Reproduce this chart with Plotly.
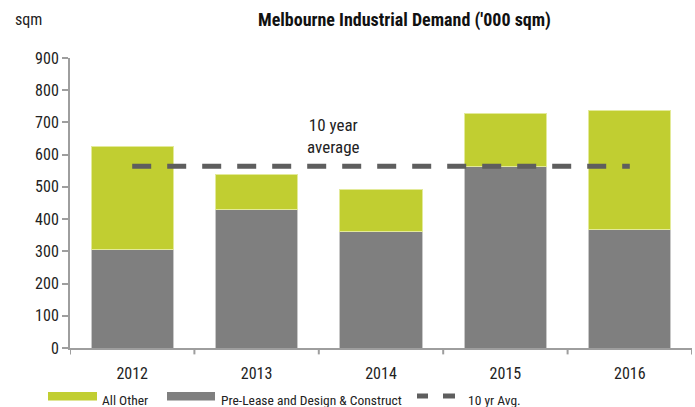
import plotly.graph_objects as go

# Melbourne industrial demand, '000 sqm
years = ["2012", "2013", "2014", "2015", "2016"]
pre_lease_dc = [305, 431, 361, 563, 367]
all_other = [321, 108, 132, 165, 369]
ten_yr_avg = [564, 564, 564, 564, 564]

GREEN = "#c1ce31"
GREY = "#7f7f7f"
DASH = "#5e5e5e"
AXIS = "#9e9e9e"
FONT = "Roboto Condensed, Roboto, Arial, sans-serif"

W, H = 695, 407
L, R, T, B = 70, 3, 58, 59

fig = go.Figure()
fig.add_trace(go.Bar(
    x=years, y=pre_lease_dc, name="Pre-Lease and Design & Construct",
    marker=dict(color=GREY, line=dict(color="#c8c8c8", width=1)),
    width=0.66,
))
fig.add_trace(go.Bar(
    x=years, y=all_other, name="All Other",
    marker=dict(color=GREEN, line=dict(color="#e3ea9a", width=1)),
    width=0.66,
))
fig.add_trace(go.Scatter(
    x=years, y=ten_yr_avg, name="10 yr Avg.", mode="lines",
    line=dict(color=DASH, width=5, dash="19px,16px"),
))

# pixel -> paper helpers for the hand-drawn legend
def px(x):
    return (x - L) / (W - L - R)

def py(y):
    return (H - B - y) / (H - T - B)

shapes = [
    dict(type="rect", xref="paper", yref="paper", x0=px(48), x1=px(97),
         y0=py(400.5), y1=py(392), fillcolor=GREEN, line=dict(width=0)),
    dict(type="rect", xref="paper", yref="paper", x0=px(167), x1=px(215),
         y0=py(400.5), y1=py(392), fillcolor=GREY, line=dict(width=0)),
    dict(type="line", xref="paper", yref="paper", x0=px(417), x1=px(428),
         y0=py(396), y1=py(396), line=dict(color=DASH, width=5)),
    dict(type="line", xref="paper", yref="paper", x0=px(443), x1=px(455),
         y0=py(396), y1=py(396), line=dict(color=DASH, width=5)),
]

legend_font = dict(family=FONT, size=13.5, color="#222222")
annotations = [
    dict(text="All Other", xref="paper", yref="paper", x=px(100), y=py(400),
         xanchor="left", yanchor="middle", showarrow=False, font=legend_font),
    dict(text="Pre-Lease and Design & Construct", xref="paper", yref="paper",
         x=px(219), y=py(400), xanchor="left", yanchor="middle",
         showarrow=False, font=legend_font),
    dict(text="10 yr Avg.", xref="paper", yref="paper", x=px(466), y=py(400),
         xanchor="left", yanchor="middle", showarrow=False, font=legend_font),
    dict(text="10 year<br>average", xref="x", yref="paper", x=1.62, y=py(136),
         xanchor="center", yanchor="middle", showarrow=False,
         font=dict(family=FONT, size=17, color="#222222")),
    dict(text="sqm", xref="paper", yref="paper", x=px(28), y=py(20),
         xanchor="center", yanchor="middle", showarrow=False,
         font=dict(family=FONT, size=16, color="#222222")),
    dict(text="<b>Melbourne Industrial Demand ('000 sqm)</b>", xref="paper",
         yref="paper", x=px(405), y=py(20), xanchor="center", yanchor="middle",
         showarrow=False, font=dict(family=FONT, size=18, color="#111111")),
]

fig.update_layout(
    width=W, height=H,
    margin=dict(l=L, r=R, t=T, b=B),
    barmode="stack",
    plot_bgcolor="white", paper_bgcolor="white",
    showlegend=False,
    font=dict(family=FONT, size=16, color="#222222"),
    shapes=shapes,
    annotations=annotations,
)
fig.update_xaxes(
    type="category", range=[-0.5, 4.5],
    showline=True, linecolor=AXIS, linewidth=2,
    ticks="outside", ticklen=0, tickfont=dict(size=16),
    ticklabelstandoff=10,
    showgrid=False, zeroline=False,
)
# category boundary tick marks on the x axis
for i in range(6):
    fig.add_shape(type="line", xref="x", yref="paper", x0=i - 0.5, x1=i - 0.5,
                  y0=0, y1=-0.022, line=dict(color=AXIS, width=2))
fig.update_yaxes(
    range=[0, 900], dtick=100,
    showline=True, linecolor=AXIS, linewidth=2,
    ticks="outside", ticklen=6, tickcolor=AXIS, tickwidth=2,
    showgrid=False, zeroline=False, tickfont=dict(size=16),
)

fig.write_html("out.html")
